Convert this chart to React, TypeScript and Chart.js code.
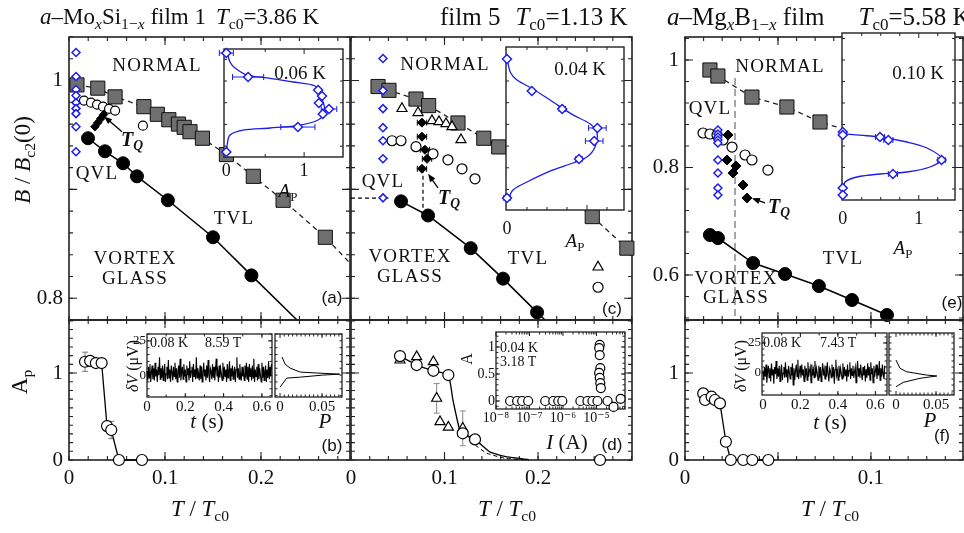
import React, { useEffect, useRef } from 'react';
import { Chart, registerables } from 'chart.js';

Chart.register(...registerables);

const SERIF = '"Liberation Serif", "Times New Roman", "DejaVu Serif", serif';
const SANS = '"Liberation Sans", Arial, sans-serif';
const BLUE = '#1d1de8';
const INK = '#111';

// ================= DATA =================
// (a) a-MoxSi1-x film 1 : B/Bc2(0) vs T/Tc0
const aNormalT = [0.0083, 0.030, 0.048, 0.078, 0.092, 0.104, 0.114, 0.120, 0.126, 0.139, 0.164, 0.192, 0.223, 0.267];
const aNormalB = [0.996, 0.993, 0.985, 0.976, 0.969, 0.964, 0.960, 0.957, 0.953, 0.947, 0.932, 0.912, 0.890, 0.856];
const aNormalTailT = [0.293];
const aNormalTailB = [0.832];
const aGlassT = [0.0198, 0.0375, 0.0563, 0.0708, 0.103, 0.150, 0.190];
const aGlassB = [0.947, 0.935, 0.924, 0.912, 0.890, 0.856, 0.821];
const aGlassTailT = [0.2375];
const aGlassTailB = [0.78];
const aQvlT = [0.0156, 0.0229, 0.0292, 0.0354, 0.0417, 0.048, 0.077];
const aQvlB = [0.9816, 0.9797, 0.9779, 0.976, 0.974, 0.9724, 0.9585];
const aTqT = [0.027, 0.030, 0.033, 0.036];
const aTqB = [0.9576, 0.9613, 0.965, 0.9687];
const aScanT = [0.0073, 0.0073, 0.0073, 0.0073, 0.0073, 0.0073, 0.0073, 0.0073, 0.0073];
const aScanB = [1.0258, 1.0037, 0.9917, 0.9862, 0.9797, 0.9742, 0.9696, 0.9576, 0.9346];
const aArrowT = [0.0552, 0.0365];
const aArrowB = [0.953, 0.967];
// (a) inset: A_P vs B at 0.06 K
const aInsetA = [0, 0.28, 1.18, 1.23, 1.19, 1.32, 1.24, 0.92, 0];
const aInsetErr = [0.09, 0.2, 0, 0, 0, 0.1, 0, 0.22, 0];
const aFitA = [0.01, 0.047, 0.112, 0.266, 0.523, 0.858, 1.141, 1.218, 1.27, 1.18, 0.948, 0.562, 0.215, 0.047, 0.01, 0.01];
const aFitB = [1.0267, 1.0175, 1.012, 1.0055, 1.0028, 0.9991, 0.9954, 0.9853, 0.9714, 0.9641, 0.9594, 0.9567, 0.9548, 0.9502, 0.941, 0.9346];

// (b) A_p vs T/Tc0
const bT = [0.0167, 0.022, 0.028, 0.034, 0.0396, 0.044, 0.052, 0.076];
const bA = [1.13, 1.14, 1.115, 1.115, 0.39, 0.345, 0, 0];
const bErr = [0.11, 0, 0, 0, 0, 0.1, 0, 0];
// (b) inset: dV(t) trace (0.65 s record) and its distribution P
const bNoiseSpan = 0.65;
const bNoise = [3, -4, 6, -2, 8, -5, 2, 7, -3, 5, -4, 9, -1, 4, -5, 6, 0, 13, -3, 5, -2, 7, -4, 3, 8, -5, 1, 6, -3, 11, -2, 4, -5, 7, 2, -4, 6, -1, 9, -3, 5, -5, 3, 7, -2, 12, -4, 2, 6, -3, 8, -1, 4, -5, 7, 0, 5, -4, 10, -2, 3, 6, -5, 8, -1, 4, -3, 13, -2, 5, 1, -4, 7, -3, 6, -5, 2, 9, -1, 4, -4, 7, -2, 11, 0, -5, 5, 3, -3, 8, -2, 6, -4, 4, 12, -1, 3, -5, 7, -2, 5, 1, -4, 9, -3, 6, -1, 4, -5, 8, -2, 3, 10, -4, 5, -1, 7, -3, 2, 6, -5, 4, 13, -2, 5, -3, 8, 0, -4, 6, -1, 3, -4, 7, -2, 9, -3, 6, -5, 8, -1, 5, -4, 7, -2, 12, -5, 4, -1, 6, -4, 8, -3, 5, 0, -5, 9, -2, 6, -4, 3, 7, -5, 4, -2, 10, -3, 6, -1, 8];
const bP = [0.0024, 0.006, 0.012, 0.024, 0.044, 0.071, 0.051, 0.024, 0.008, 0];
const bPV = [13.2, 8, 5.1, 2.2, 1.5, 0.7, 0, -1.5, -2.2, -8.8];

// (c) film 5
const cNormalT = [0.0289, 0.0406, 0.0695, 0.083, 0.1144, 0.142, 0.158, 0.258, 0.295];
const cNormalB = [0.9945, 0.991, 0.983, 0.977, 0.961, 0.947, 0.939, 0.875, 0.846];
const cNormalTailT = [0.3005];
const cNormalTailB = [0.842];
const cGlassT = [0.0535, 0.0824, 0.128, 0.1626, 0.199];
const cGlassB = [0.889, 0.876, 0.846, 0.818, 0.787];
const cGlassTailT = [0.2075];
const cGlassTailB = [0.78];
const cTriT = [0.0545, 0.0717, 0.0866, 0.0941, 0.1016, 0.108, 0.1176, 0.2642];
const cTriB = [0.9742, 0.9705, 0.9631, 0.9622, 0.9604, 0.9576, 0.9456, 0.8286];
const cQvlT = [0.0439, 0.0535, 0.0695, 0.0877, 0.1037, 0.1187, 0.1326, 0.2642];
const cQvlB = [0.9447, 0.9447, 0.9392, 0.9327, 0.9272, 0.9189, 0.9097, 0.8101];
const cTqT = [0.0759, 0.0759, 0.0791, 0.0813, 0.0759];
const cTqB = [0.9613, 0.9484, 0.9364, 0.9281, 0.9189];
const cTqErr = [0.005, 0.005, 0.005, 0.005, 0.005];
const cScanT = [0.0342, 0.0342, 0.0342, 0.0342, 0.0342, 0.0342, 0.0342];
const cScanB = [1.0203, 0.9908, 0.9742, 0.9567, 0.9447, 0.9281, 0.8922];
const cQvlEdgeT = [0, 0.04];
const cQvlEdgeB = [0.892, 0.892];
const cTqDropT = [0.077, 0.077];
const cTqDropB = [0.919, 0.881];
const cArrowT = [0.093, 0.0824];
const cArrowB = [0.9014, 0.9143];
// (c) inset at 0.04 K
const cInsetA = [0, 0.31, 0.69, 1.13, 1.09, 0.9, 0];
const cInsetErr = [0, 0, 0.04, 0.11, 0.11, 0.04, 0.04];
const cFitA = [0, 0.04, 0.125, 0.325, 0.575, 0.825, 1.04, 1.125, 1.10, 1.0, 0.825, 0.575, 0.25, 0.075, 0.01];
const cFitB = [1.0212, 1.0083, 1.0009, 0.9926, 0.9806, 0.9687, 0.9604, 0.9521, 0.9392, 0.93, 0.9244, 0.918, 0.9069, 0.8995, 0.8903];

// (d) A_p vs T/Tc0
const dCircT = [0.0524, 0.0702, 0.0881, 0.1041, 0.1195, 0.1326, 0.2663];
const dCircA = [1.195, 1.092, 1.026, 0.977, 0.307, 0.237, 0];
const dCircFitT = [0.0524, 0.0702, 0.0881, 0.1041, 0.109, 0.1166, 0.1195, 0.1326, 0.149, 0.167, 0.19];
const dCircFitA = [1.195, 1.092, 1.026, 0.977, 0.69, 0.33, 0.307, 0.237, 0.09, 0.035, 0.005];
const dTriT = [0.0524, 0.0702, 0.0881, 0.0916, 0.0952, 0.1041, 0.1195];
const dTriA = [1.149, 1.188, 1.13, 0.709, 0.44, 0.376, 0.364];
const dTriErr = [0, 0, 0, 0.17, 0, 0, 0.2];
const dTriFitT = [0.1195, 0.13, 0.145, 0.165, 0.19];
const dTriFitA = [0.364, 0.2, 0.08, 0.02, 0];
// (d) inset: A vs I (A)
const dRowI = [2.63e-8, 4.27e-8, 6.03e-8, 9.12e-8, 2.95e-7, 5.13e-7, 7.24e-7, 9.55e-7, 3.31e-6, 5.37e-6, 7.59e-6, 1.07e-5, 2.14e-5, 3.24e-5, 5.25e-5];
const dRowA = [0, 0, 0, 0, 0, 0, 0, 0, 0, 0, 0, 0, 0, -0.11, 0.04];
const dColI = [1.25e-5, 1.2e-5, 1.25e-5, 1.3e-5, 1.2e-5, 1.25e-5, 1.3e-5, 1.35e-5];
const dColA = [1.04, 0.98, 0.85, 0.61, 0.52, 0.43, 0.33, 0.24];
const dDecades = [1e-8, 1e-7, 1e-6, 1e-5];

// (e) a-MgxB1-x film
const eNormalT = [0.0134, 0.0177, 0.036, 0.0548, 0.0726];
const eNormalB = [0.9814, 0.9702, 0.931, 0.9126, 0.8847];
const eNormalTailT = [0.0833];
const eNormalTailB = [0.8735];
const eGlassT = [0.0134, 0.0177, 0.0366, 0.0538, 0.072, 0.0898, 0.1086];
const eGlassB = [0.6744, 0.6688, 0.6223, 0.6019, 0.5795, 0.5535, 0.5256];
const eQvlT = [0.0097, 0.0134, 0.0172, 0.0204, 0.0253, 0.0323, 0.036, 0.0446];
const eQvlB = [0.8642, 0.8623, 0.8605, 0.8512, 0.8381, 0.8233, 0.814, 0.7953];
const eTqT = [0.0231, 0.0226, 0.0274, 0.0258, 0.0312, 0.0333];
const eTqB = [0.8605, 0.814, 0.8028, 0.7898, 0.7674, 0.7433];
const eScanT = [0.0177, 0.0177, 0.0177, 0.0177, 0.0177, 0.0177, 0.0177, 0.0177, 0.0177];
const eScanB = [0.8698, 0.8623, 0.8567, 0.8512, 0.8456, 0.814, 0.7898, 0.7619, 0.7488];
const eMarkT = [0.0269, 0.0269];
const eMarkB = [0.9665, 0.5163];
const eArrowT = [0.043, 0.036];
const eArrowB = [0.734, 0.743];
// (e) inset at 0.10 K
const eInsetB = [0.866, 0.8605, 0.8567, 0.8512, 0.814, 0.7879, 0.7619, 0.7488];
const eInsetA = [0, 0, 0.49, 0.6, 1.3, 0.66, 0, 0];
const eInsetErr = [0, 0, 0.06, 0.06, 0.05, 0.06, 0, 0];
const eFitA = [0, 0.003, 0.187, 0.49, 0.845, 1.108, 1.306, 1.148, 0.845, 0.49, 0.187, 0.03, 0];
const eFitB = [0.8735, 0.8642, 0.8605, 0.8567, 0.8474, 0.8363, 0.8158, 0.8009, 0.7916, 0.7879, 0.7823, 0.773, 0.7581];

// (f) A_p vs T/Tc0
const fT = [0.0098, 0.0108, 0.0143, 0.0161, 0.0188, 0.022, 0.0246, 0.0313, 0.0362, 0.0448];
const fA = [0.766, 0.69, 0.728, 0.69, 0.651, 0.21, 0, 0, 0, 0];
const fNoiseSpan = 0.65;
const fNoise = [2, -6, 5, -3, 7, -8, 1, 6, -4, 4, -7, 8, -2, 3, -9, 5, -1, 10, -5, 4, -3, 6, -7, 2, 7, -6, 0, 5, -4, 9, -3, 3, -8, 6, 1, -5, 5, -2, 8, -10, 4, -6, 2, 7, -3, 11, -5, 1, 6, -4, 7, -2, 3, -7, 6, -1, 4, -6, 9, -3, 2, 5, -8, 7, -2, 3, -4, 10, -3, 4, 0, -6, 6, -4, 5, -7, 1, 8, -2, 3, -5, 6, -3, 9, -1, -7, 4, 2, -4, 7, -3, 5, -9, 3, 11, -2, 2, -6, 6, -3, 4, 0, -5, 8, -4, 5, -2, 3, -7, 7, -3, 2, 9, -5, 4, -2, 6, -4, 1, 5, -8, 3, 10, -3, 4, -4, 7, -1, -6, 5, -2, 6, -7, 3, -4, 8, -2, 5, -6, 9, -1, 4, -8, 6, -3, 2, 7, -5, 3, -2, 10, -6, 4, -3, 7, -1, -5, 6];
const fP = [0, 0.005, 0.013, 0.038, 0.051, 0.03, 0.009, 0];
const fPV = [10.8, 3.9, 1.1, -1.7, -2.5, -4.4, -7.8, -11.4];

// ================= HELPERS =================
type P = { x: number; y: number };
const pts = (xs: number[], ys: number[]): P[] => xs.map((x, i) => ({ x, y: ys[i] }));
const series = (ys: number[], span: number): P[] => ys.map((y, i) => ({ x: (span * i) / (ys.length - 1), y }));
const steps = (a: number, b: number, s: number) => {
  const o: number[] = [];
  for (let k = 0; a + k * s <= b + 1e-9; k++) o.push(+(a + k * s).toFixed(6));
  return o;
};
const logMinor = dDecades.flatMap((d) => [2, 3, 4, 5, 6, 7, 8, 9].map((k) => k * d));

const mk = (data: P[], style: string, r: number, fill: string, stroke: string, bw: number, extra: any = {}) => ({
  data, showLine: false, pointStyle: style, pointRadius: r, pointHoverRadius: r,
  pointBackgroundColor: fill, pointBorderColor: stroke, pointBorderWidth: bw, clip: false, ...extra,
});
const ln = (data: P[], color: string, width: number, dash: number[] = [], tension = 0) => ({
  data, showLine: true, pointRadius: 0, pointHoverRadius: 0, borderColor: color, borderWidth: width,
  borderDash: dash, tension, fill: false, clip: false,
});
const graySq = (d: P[]) => mk(d, 'rect', 10, '#6f6f6f', '#111', 1);
const blackC = (d: P[]) => mk(d, 'circle', 6.5, '#000', '#000', 1);
const openC = (d: P[], r = 4.8, extra: any = {}) => mk(d, 'circle', r, '#fff', '#000', 1.2, extra);
const blackD = (d: P[], r = 4.5, extra: any = {}) => mk(d, 'rectRot', r, '#000', '#000', 1, extra);
const blueD = (d: P[], r = 4, extra: any = {}) => mk(d, 'rectRot', r, '#fff', BLUE, 1.5, extra);
const openTri = (d: P[], extra: any = {}) => mk(d, 'triangle', 5.8, '#fff', '#000', 1.2, extra);

const SUP: Record<string, string> = { '-': '⁻', '0': '⁰', '1': '¹', '2': '²', '3': '³', '4': '⁴', '5': '⁵', '6': '⁶', '7': '⁷', '8': '⁸', '9': '⁹' };
const pow10 = (v: number) => '10' + String(Math.round(Math.log10(v))).split('').map((c) => SUP[c] || c).join('');

// ================= PLUGINS =================
const framePlugin = {
  id: 'frame',
  beforeDatasetsDraw(chart: any, _a: any, o: any) {
    const { ctx, chartArea: A, scales } = chart;
    const xs = scales.x, ys = scales.y;
    ctx.save();
    if (o.bg) { ctx.fillStyle = o.bg; ctx.fillRect(A.left, A.top, A.right - A.left, A.bottom - A.top); }
    ctx.strokeStyle = o.color || '#222';
    ctx.lineWidth = o.tw ?? 1;
    const tick = (vals: number[] | undefined, len: number, horiz: boolean) => {
      for (const v of vals || []) {
        if (horiz) {
          const p = xs.getPixelForValue(v);
          if (p < A.left - 1 || p > A.right + 1) continue;
          ctx.beginPath();
          ctx.moveTo(p, A.bottom); ctx.lineTo(p, A.bottom - len);
          ctx.moveTo(p, A.top); ctx.lineTo(p, A.top + len);
          ctx.stroke();
        } else {
          const p = ys.getPixelForValue(v);
          if (p < A.top - 1 || p > A.bottom + 1) continue;
          ctx.beginPath();
          ctx.moveTo(A.left, p); ctx.lineTo(A.left + len, p);
          ctx.moveTo(A.right, p); ctx.lineTo(A.right - len, p);
          ctx.stroke();
        }
      }
    };
    tick(o.xMin, o.min ?? 4, true); tick(o.xMaj, o.maj ?? 7, true);
    tick(o.yMin, o.min ?? 4, false); tick(o.yMaj, o.maj ?? 7, false);
    ctx.lineWidth = o.bw ?? 1.5;
    ctx.strokeRect(A.left, A.top, A.right - A.left, A.bottom - A.top);
    ctx.restore();
  },
};

const errPlugin = {
  id: 'errbars',
  beforeDatasetsDraw(chart: any) {
    const { ctx, scales } = chart;
    const xs = scales.x, ys = scales.y;
    ctx.save();
    chart.data.datasets.forEach((ds: any) => {
      if (!ds.errX && !ds.errY) return;
      ctx.strokeStyle = ds.errColor || '#000';
      ctx.lineWidth = 1;
      const cap = 3;
      ds.data.forEach((pt: P, i: number) => {
        const px = xs.getPixelForValue(pt.x), py = ys.getPixelForValue(pt.y);
        const ex = ds.errX ? ds.errX[i] : 0, ey = ds.errY ? ds.errY[i] : 0;
        ctx.beginPath();
        if (ex) {
          const a = xs.getPixelForValue(pt.x - ex), b = xs.getPixelForValue(pt.x + ex);
          ctx.moveTo(a, py); ctx.lineTo(b, py);
          ctx.moveTo(a, py - cap); ctx.lineTo(a, py + cap);
          ctx.moveTo(b, py - cap); ctx.lineTo(b, py + cap);
        }
        if (ey) {
          const a = ys.getPixelForValue(pt.y - ey), b = ys.getPixelForValue(pt.y + ey);
          ctx.moveTo(px, a); ctx.lineTo(px, b);
          ctx.moveTo(px - cap, a); ctx.lineTo(px + cap, a);
          ctx.moveTo(px - cap, b); ctx.lineTo(px + cap, b);
        }
        ctx.stroke();
      });
    });
    ctx.restore();
  },
};

const arrowPlugin = {
  id: 'arrows',
  afterDatasetsDraw(chart: any, _a: any, o: any) {
    const { ctx, scales } = chart;
    const xs = scales.x, ys = scales.y;
    ctx.save();
    ctx.strokeStyle = '#000'; ctx.fillStyle = '#000'; ctx.lineWidth = 1.3;
    for (const it of o.items || []) {
      const x1 = xs.getPixelForValue(it.t[0]), y1 = ys.getPixelForValue(it.b[0]);
      const x2 = xs.getPixelForValue(it.t[1]), y2 = ys.getPixelForValue(it.b[1]);
      const ang = Math.atan2(y2 - y1, x2 - x1);
      const L = 8, W = 3.2;
      ctx.beginPath(); ctx.moveTo(x1, y1);
      ctx.lineTo(x2 - Math.cos(ang) * L * 0.8, y2 - Math.sin(ang) * L * 0.8); ctx.stroke();
      ctx.beginPath(); ctx.moveTo(x2, y2);
      ctx.lineTo(x2 - Math.cos(ang) * L + Math.sin(ang) * W, y2 - Math.sin(ang) * L - Math.cos(ang) * W);
      ctx.lineTo(x2 - Math.cos(ang) * L - Math.sin(ang) * W, y2 - Math.sin(ang) * L + Math.cos(ang) * W);
      ctx.closePath(); ctx.fill();
    }
    ctx.restore();
  },
};

// ================= SPECS =================
type AxisSpec = { min: number; max: number; log?: boolean; labels?: number[]; fmt?: (v: number) => string; size?: number; pad?: number };
type Spec = { frame: number[]; pad: number[]; x: AxisSpec; y: AxisSpec; fo: any; datasets: any[]; arrows?: any[] };

function axis(a: AxisSpec, dir: 'x' | 'y', size: number) {
  const has = !!(a.labels && a.labels.length);
  return {
    type: a.log ? 'logarithmic' : 'linear',
    position: dir === 'x' ? 'bottom' : 'left',
    min: a.min, max: a.max,
    grid: { display: false, drawTicks: false },
    border: { display: false },
    afterBuildTicks: has ? (sc: any) => { sc.ticks = (a.labels as number[]).map((v) => ({ value: v })); } : undefined,
    afterFit: (sc: any) => { if (dir === 'x') sc.height = size; else sc.width = size; },
    ticks: {
      display: has, autoSkip: false, maxRotation: 0, minRotation: 0, padding: a.pad ?? 4, color: INK,
      font: { family: SERIF, size: a.size ?? 20 },
      callback: (v: any) => (a.fmt ? a.fmt(Number(v)) : String(v)),
    },
  };
}

function buildConfig(s: Spec) {
  const [pl, pt, pr, pb] = s.pad;
  return {
    type: 'scatter',
    data: { datasets: s.datasets.slice().reverse() },
    options: {
      animation: false, responsive: false, devicePixelRatio: 1, events: [],
      layout: { autoPadding: false, padding: { left: 0, top: pt, right: pr, bottom: 0 } },
      scales: { x: axis(s.x, 'x', pb), y: axis(s.y, 'y', pl) },
      plugins: { legend: { display: false }, tooltip: { enabled: false }, frame: s.fo, arrows: { items: s.arrows || [] } },
    },
    plugins: [framePlugin, errPlugin, arrowPlugin],
  };
}

const MAIN = { maj: 8, min: 4, bw: 1.6, tw: 1.1 };
const X_AB = { xMaj: [0.1, 0.2], xMin: steps(0, 0.3, 0.02) };
const Y_AC = { yMaj: [0.8, 0.9, 1.0], yMin: steps(0.78, 1.04, 0.02) };
const Y_BDF = { yMaj: [1], yMin: steps(0, 1.6, 0.1) };
const X_EF = { xMaj: [0.05, 0.1], xMin: steps(0, 0.15, 0.01) };
const INS = { bg: '#fff', maj: 5, min: 3, bw: 1.4, tw: 1 };
const SMALL = { bg: '#fff', maj: 4, min: 2.5, bw: 1.3, tw: 1 };

const SPECS: Spec[] = [
  // (a)
  {
    frame: [69, 37, 350, 320], pad: [60, 24, 6, 24],
    x: { min: 0, max: 0.2927 }, y: { min: 0.78, max: 1.04, labels: [0.8, 1], size: 21, pad: 6 },
    fo: { ...MAIN, ...X_AB, ...Y_AC },
    datasets: [
      ln(pts([...aNormalT, ...aNormalTailT], [...aNormalB, ...aNormalTailB]), '#222', 1.3, [5, 4]),
      ln(pts([...aGlassT, ...aGlassTailT], [...aGlassB, ...aGlassTailB]), '#000', 1.5),
      graySq(pts(aNormalT, aNormalB)),
      blackC(pts(aGlassT, aGlassB)),
      openC(pts(aQvlT, aQvlB), 4.5),
      blackD(pts(aTqT, aTqB), 4.2),
      blueD(pts(aScanT, aScanB)),
    ],
    arrows: [{ t: aArrowT, b: aArrowB }],
  },
  // (c)
  {
    frame: [351, 37, 632, 320], pad: [3, 5, 6, 5],
    x: { min: 0, max: 0.3005 }, y: { min: 0.78, max: 1.04 },
    fo: { ...MAIN, ...X_AB, ...Y_AC },
    datasets: [
      ln(pts([...cNormalT, ...cNormalTailT], [...cNormalB, ...cNormalTailB]), '#222', 1.3, [5, 4]),
      ln(pts([...cGlassT, ...cGlassTailT], [...cGlassB, ...cGlassTailB]), '#000', 1.5),
      ln(pts(cQvlEdgeT, cQvlEdgeB), '#000', 1.2, [4, 3]),
      ln(pts(cTqDropT, cTqDropB), '#000', 1.2, [4, 3]),
      graySq(pts(cNormalT, cNormalB)),
      blackC(pts(cGlassT, cGlassB)),
      openTri(pts(cTriT, cTriB)),
      openC(pts(cQvlT, cQvlB), 5),
      blackD(pts(cTqT, cTqB), 4.5, { errX: cTqErr }),
      blueD(pts(cScanT, cScanB)),
    ],
    arrows: [{ t: cArrowT, b: cArrowB }],
  },
  // (e)
  {
    frame: [685, 37, 963, 320], pad: [60, 24, 1, 24],
    x: { min: 0, max: 0.1495 }, y: { min: 0.5163, max: 1.0428, labels: [0.6, 0.8, 1], size: 21, pad: 6 },
    fo: { ...MAIN, ...X_EF, yMaj: [0.6, 0.8, 1], yMin: steps(0.52, 1.04, 0.04) },
    datasets: [
      ln(pts(eMarkT, eMarkB), '#777', 1.3, [7, 4]),
      ln(pts([...eNormalT, ...eNormalTailT], [...eNormalB, ...eNormalTailB]), '#222', 1.3, [5, 4]),
      ln(pts(eGlassT, eGlassB), '#000', 1.5),
      graySq(pts(eNormalT, eNormalB)),
      blackC(pts(eGlassT, eGlassB)),
      openC(pts(eQvlT, eQvlB), 5),
      blackD(pts(eTqT, eTqB), 5),
      blueD(pts(eScanT, eScanB)),
    ],
    arrows: [{ t: eArrowT, b: eArrowB }],
  },
  // (b)
  {
    frame: [69, 320, 350, 460], pad: [60, 24, 6, 42],
    x: { min: 0, max: 0.2927, labels: [0, 0.1, 0.2], size: 21, pad: 6 },
    y: { min: 0, max: 1.61, labels: [0, 1], size: 21, pad: 6 },
    fo: { ...MAIN, ...X_AB, ...Y_BDF },
    datasets: [ln(pts(bT, bA), '#000', 1.3), openC(pts(bT, bA), 5.5, { errY: bErr, errColor: '#777' })],
  },
  // (d)
  {
    frame: [351, 320, 632, 460], pad: [16, 5, 6, 42],
    x: { min: 0, max: 0.3005, labels: [0, 0.1, 0.2], size: 21, pad: 6 }, y: { min: 0, max: 1.61 },
    fo: { ...MAIN, ...X_AB, ...Y_BDF },
    datasets: [
      ln(pts(dCircFitT, dCircFitA), '#000', 1.3, [], 0.15),
      ln(pts(dTriFitT, dTriFitA), '#000', 1, [4, 3], 0.2),
      openTri(pts(dTriT, dTriA), { errY: dTriErr, errColor: '#888' }),
      openC(pts(dCircT, dCircA), 5.5),
    ],
  },
  // (f)
  {
    frame: [685, 320, 963, 460], pad: [60, 24, 1, 42],
    x: { min: 0, max: 0.1495, labels: [0, 0.1], size: 21, pad: 6 },
    y: { min: 0, max: 1.61, labels: [0, 1], size: 21, pad: 6 },
    fo: { ...MAIN, ...X_EF, ...Y_BDF },
    datasets: [ln(pts(fT, fA), '#000', 1.3), openC(pts(fT, fA), 5.5)],
  },
  // (a) inset
  {
    frame: [224, 49, 343, 157], pad: [8, 3, 3, 24],
    x: { min: -0.03, max: 1.5, labels: [0, 1], size: 18, pad: 3 }, y: { min: 0.93, max: 1.0295 },
    fo: { ...INS, xMaj: [1], xMin: [0.5], yMin: steps(0.94, 1.02, 0.02) },
    datasets: [ln(pts(aFitA, aFitB), BLUE, 1.3, [], 0.3), blueD(pts(aInsetA, aScanB), 4.5, { errX: aInsetErr, errColor: BLUE })],
  },
  // (c) inset
  {
    frame: [506, 47, 624, 210], pad: [14, 3, 3, 30],
    x: { min: -0.0125, max: 1.4625, labels: [0], size: 18, pad: 8 }, y: { min: 0.8811, max: 1.0313 },
    fo: { ...INS, xMaj: [1], xMin: [0.25, 0.5, 0.75, 1.25], yMin: steps(0.9, 1.02, 0.02) },
    datasets: [ln(pts(cFitA, cFitB), BLUE, 1.3, [], 0.3), blueD(pts(cInsetA, cScanB), 4.5, { errX: cInsetErr, errColor: BLUE })],
  },
  // (e) inset
  {
    frame: [842, 33, 955, 200], pad: [14, 3, 3, 30],
    x: { min: -0.01, max: 1.477, labels: [0, 1], size: 18, pad: 8 }, y: { min: 0.7395, max: 1.0502 },
    fo: { ...INS, xMaj: [1], xMin: [0.25, 0.5, 0.75, 1.25], yMin: steps(0.76, 1.04, 0.04) },
    datasets: [ln(pts(eFitA, eFitB), BLUE, 1.3, [], 0.3), blueD(pts(eInsetA, eInsetB), 4.5, { errX: eInsetErr, errColor: BLUE })],
  },
  // (b) inset: time trace
  {
    frame: [147, 334, 272, 397], pad: [18, 10, 3, 18],
    x: { min: 0, max: 0.6527, labels: [0, 0.2, 0.4, 0.6], size: 15, pad: 1 },
    y: { min: -16, max: 30, labels: [0, 25], size: 13, pad: 1 },
    fo: { ...SMALL, xMaj: [0.2, 0.4, 0.6], xMin: steps(0.1, 0.6, 0.1), yMaj: [0, 25], yMin: steps(-15, 30, 5) },
    datasets: [ln(series(bNoise, bNoiseSpan), '#000', 1.1)],
  },
  // (b) inset: P
  {
    frame: [275, 334, 342, 397], pad: [4, 3, 3, 18],
    x: { min: -0.006, max: 0.0738, labels: [0, 0.05], size: 15, pad: 1 }, y: { min: -16, max: 30 },
    fo: { ...SMALL, xMaj: [0, 0.05], xMin: steps(0.005, 0.07, 0.005), yMin: steps(-15, 30, 5) },
    datasets: [ln(pts(bP, bPV), '#000', 1)],
  },
  // (d) inset: A vs I
  {
    frame: [496, 332, 625, 409], pad: [22, 10, 4, 20],
    x: { log: true, min: 1e-8, max: 7.1e-5, labels: dDecades, fmt: pow10, size: 14, pad: 1 },
    y: { min: -0.148, max: 1.278, labels: [0, 0.5, 1], size: 14, pad: 1 },
    fo: { ...SMALL, xMaj: dDecades, xMin: logMinor, yMaj: [0, 0.5, 1], yMin: steps(-0.1, 1.2, 0.1) },
    datasets: [openC(pts(dRowI, dRowA), 4.5), openC(pts(dColI, dColA), 4.5)],
  },
  // (f) inset: time trace
  {
    frame: [762, 333, 887, 395], pad: [18, 10, 2, 18],
    x: { min: -0.005, max: 0.662, labels: [0, 0.2, 0.4, 0.6], size: 15, pad: 1 },
    y: { min: -18.3, max: 33.3, labels: [0, 25], size: 13, pad: 1 },
    fo: { ...SMALL, xMaj: [0.2, 0.4, 0.6], xMin: steps(0.1, 0.6, 0.1), yMaj: [0, 25], yMin: steps(-15, 30, 5) },
    datasets: [ln(series(fNoise, fNoiseSpan), '#000', 1.1)],
  },
  // (f) inset: P
  {
    frame: [889, 333, 954, 395], pad: [3, 3, 3, 18],
    x: { min: -0.00875, max: 0.0725, labels: [0, 0.05], size: 15, pad: 1 }, y: { min: -18.3, max: 33.3 },
    fo: { ...SMALL, xMaj: [0, 0.05], xMin: steps(0.005, 0.07, 0.005), yMin: steps(-15, 30, 5) },
    datasets: [ln(pts(fP, fPV), '#000', 1)],
  },
];

// ================= TEXT =================
type TP = { x: number; y: number; s?: number; a?: 'l' | 'c'; r?: number; f?: string; b?: boolean; i?: boolean; ls?: number; children: React.ReactNode };
const Tx = ({ x, y, s = 18, a = 'c', r = 0, f = SERIF, b = false, i = false, ls = 0, children }: TP) => (
  <div
    style={{
      position: 'absolute', left: x, top: y,
      transform: `translate(${a === 'l' ? '0' : '-50%'}, -50%)${r ? ` rotate(${r}deg)` : ''}`,
      fontFamily: f, fontSize: s, fontWeight: b ? 'bold' : 'normal', fontStyle: i ? 'italic' : 'normal',
      letterSpacing: ls, whiteSpace: 'nowrap', lineHeight: 1, color: INK,
    }}
  >
    {children}
  </div>
);
const Sub = ({ children }: { children: React.ReactNode }) => (
  <span style={{ fontSize: '0.68em', position: 'relative', top: '0.3em' }}>{children}</span>
);
const Gap = ({ w }: { w: number }) => <span style={{ display: 'inline-block', width: w }} />;
const REG = 19;
const LS = 1.2;

export default function App() {
  const refs = useRef<(HTMLCanvasElement | null)[]>([]);
  useEffect(() => {
    const charts = SPECS.map((s, i) => new Chart(refs.current[i] as HTMLCanvasElement, buildConfig(s) as any));
    return () => { charts.forEach((c) => c.destroy()); };
  }, []);
  return (
    <div style={{ position: 'fixed', left: 0, top: 0, width: 964, height: 533, background: '#fff', overflow: 'hidden', fontFamily: SERIF }}>
      {SPECS.map((s, i) => {
        const [l, t, r, b] = s.frame;
        const [pl, pt, pr, pb] = s.pad;
        const w = r - l + pl + pr, h = b - t + pt + pb;
        return (
          <canvas key={i} ref={(el) => { refs.current[i] = el; }} width={w} height={h}
            style={{ position: 'absolute', left: l - pl, top: t - pt, width: w, height: h }} />
        );
      })}

      {/* titles */}
      <Tx x={40} y={16} s={23} a="l"><i>a</i>–Mo<Sub><i>x</i></Sub>Si<Sub>1−<i>x</i></Sub> film 1<Gap w={10} /><i>T</i><Sub>c0</Sub>=3.86 K</Tx>
      <Tx x={440} y={16} s={25} a="l">film 5<Gap w={15} /><i>T</i><Sub>c0</Sub>=1.13 K</Tx>
      <Tx x={667} y={16} s={25} a="l"><i>a</i>–Mg<Sub><i>x</i></Sub>B<Sub>1−<i>x</i></Sub> film<Gap w={34} /><i>T</i><Sub>c0</Sub>=5.58 K</Tx>

      {/* axis titles */}
      <Tx x={22} y={160} s={23} r={-90}><i>B</i> / <i>B</i><Sub>c2</Sub>(0)</Tx>
      <Tx x={19} y={382} s={23} r={-90}>A<Sub>p</Sub></Tx>
      <Tx x={200} y={508} s={23}><i>T</i> / <i>T</i><Sub>c0</Sub></Tx>
      <Tx x={507} y={508} s={23}><i>T</i> / <i>T</i><Sub>c0</Sub></Tx>
      <Tx x={830} y={508} s={23}><i>T</i> / <i>T</i><Sub>c0</Sub></Tx>

      {/* (a) */}
      <Tx x={157} y={64} s={REG} ls={LS}>NORMAL</Tx>
      <Tx x={97} y={172} s={REG} ls={LS}>QVL</Tx>
      <Tx x={234} y={217} s={REG} ls={LS}>TVL</Tx>
      <Tx x={135} y={257} s={REG} ls={LS}>VORTEX</Tx>
      <Tx x={135} y={277} s={REG} ls={LS}>GLASS</Tx>
      <Tx x={132} y={139} s={20} b i>T<Sub>Q</Sub></Tx>
      <Tx x={332} y={297} s={17} f={SANS}>(a)</Tx>
      <Tx x={300} y={72} s={REG}>0.06 K</Tx>
      <Tx x={288} y={190} s={REG}><i>A</i><Sub>P</Sub></Tx>

      {/* (b) */}
      <Tx x={332} y={445} s={17} f={SANS}>(b)</Tx>
      <Tx x={150} y={343} s={14} a="l">0.08 K</Tx>
      <Tx x={205} y={343} s={14} a="l">8.59 T</Tx>
      <Tx x={133} y={366} s={16} r={-90}><i>δV</i> (μV)</Tx>
      <Tx x={207} y={421} s={21}><i>t</i> (s)</Tx>
      <Tx x={325} y={421} s={21} i>P</Tx>

      {/* (c) */}
      <Tx x={445} y={63} s={REG} ls={LS}>NORMAL</Tx>
      <Tx x={383} y={180} s={REG} ls={LS}>QVL</Tx>
      <Tx x={528} y={257} s={REG} ls={LS}>TVL</Tx>
      <Tx x={410} y={255} s={REG} ls={LS}>VORTEX</Tx>
      <Tx x={410} y={275} s={REG} ls={LS}>GLASS</Tx>
      <Tx x={449} y={197} s={20} b i>T<Sub>Q</Sub></Tx>
      <Tx x={612} y={308} s={17} f={SANS}>(c)</Tx>
      <Tx x={580} y={68} s={REG}>0.04 K</Tx>
      <Tx x={575} y={240} s={REG}><i>A</i><Sub>P</Sub></Tx>

      {/* (d) */}
      <Tx x={500} y={348} s={14} a="l">0.04 K</Tx>
      <Tx x={500} y={362} s={14} a="l">3.18 T</Tx>
      <Tx x={467} y={359} s={16} r={-90}>A</Tx>
      <Tx x={567} y={442} s={21}><i>I</i> (A)</Tx>
      <Tx x={612} y={444} s={17} f={SANS}>(d)</Tx>

      {/* (e) */}
      <Tx x={780} y={65} s={REG} ls={LS}>NORMAL</Tx>
      <Tx x={710} y={107} s={REG} ls={LS}>QVL</Tx>
      <Tx x={843} y={257} s={REG} ls={LS}>TVL</Tx>
      <Tx x={736} y={277} s={REG} ls={LS}>VORTEX</Tx>
      <Tx x={736} y={296} s={REG} ls={LS}>GLASS</Tx>
      <Tx x={779} y={206} s={20} b i>T<Sub>Q</Sub></Tx>
      <Tx x={952} y={302} s={17} f={SANS}>(e)</Tx>
      <Tx x={918} y={72} s={REG}>0.10 K</Tx>
      <Tx x={903} y={247} s={REG}><i>A</i><Sub>P</Sub></Tx>

      {/* (f) */}
      <Tx x={763} y={343} s={14} a="l">0.08 K</Tx>
      <Tx x={820} y={343} s={14} a="l">7.43 T</Tx>
      <Tx x={741} y={366} s={16} r={-90}><i>δV</i> (μV)</Tx>
      <Tx x={830} y={422} s={21}><i>t</i> (s)</Tx>
      <Tx x={930} y={420} s={21} i>P</Tx>
      <Tx x={942} y={435} s={17} f={SANS}>(f)</Tx>
    </div>
  );
}
